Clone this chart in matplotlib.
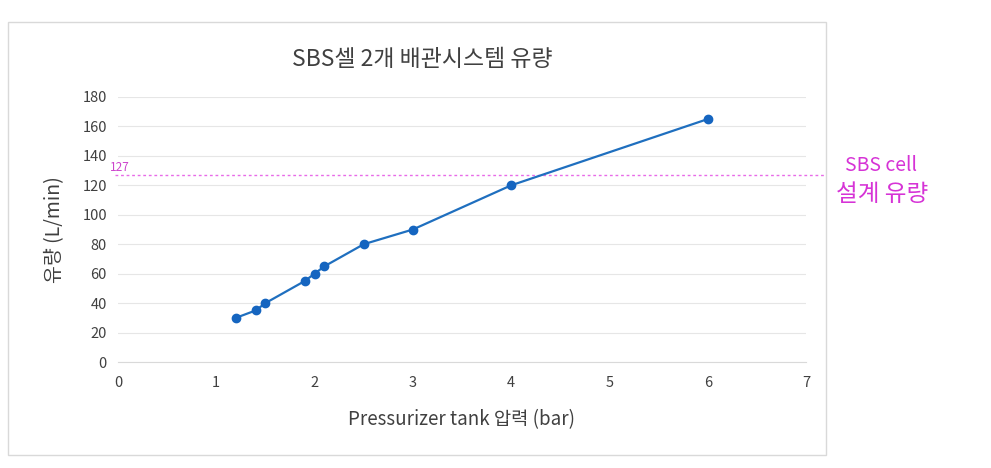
import matplotlib
matplotlib.use("Agg")
import matplotlib.pyplot as plt
from matplotlib.patches import Rectangle

plt.rcParams['font.family'] = ['Noto Sans CJK KR', 'DejaVu Sans']

pressure = [1.2, 1.4, 1.5, 1.9, 2.0, 2.1, 2.5, 3.0, 4.0, 6.0]
flow = [30, 35, 40, 55, 60, 65, 80, 90, 120, 165]
design_flow = 127
x_ticks = [0, 1, 2, 3, 4, 5, 6, 7]
y_ticks = [0, 20, 40, 60, 80, 100, 120, 140, 160, 180]

W, H = 991, 468
fig = plt.figure(figsize=(W/100, H/100), dpi=100)

# outer chart frame
fig.patches.append(Rectangle((8/W, 1-455/H), (826-8)/W, (455-22)/H,
                             transform=fig.transFigure, fill=False,
                             edgecolor='#d9d9d9', linewidth=1))

ax = fig.add_axes([118/W, 1-362/H, (806-118)/W, (362-97)/H])
ax.set_xlim(0, 7)
ax.set_ylim(0, 180)
ax.set_xticks(x_ticks)
ax.set_yticks(y_ticks)
ax.tick_params(axis='y', length=0, labelsize=10.5, colors='#404040', pad=8)
ax.tick_params(axis='x', length=0, labelsize=10.5, colors='#404040', pad=10)
for s in ['top', 'right', 'left']:
    ax.spines[s].set_visible(False)
ax.spines['bottom'].set_color('#d9d9d9')
ax.grid(axis='y', color='#e6e6e6', linewidth=0.8)
ax.set_axisbelow(True)

ax.plot(pressure, flow, color='#1f6fbf', linewidth=1.6, marker='o',
        markersize=6, markerfacecolor='#1565c0', markeredgecolor='#1565c0', zorder=3)

ax.axhline(design_flow, xmin=-0.005, xmax=(826-118)/(806-118), color='#e86be8',
           linestyle=(0, (2, 2)), linewidth=1, clip_on=False, zorder=2)
ax.text(-0.012, design_flow + 0.8, str(design_flow), color='#cc44cc', fontsize=8.5,
        ha='left', va='bottom', transform=ax.get_yaxis_transform())

fig.text(881/W, 1-165/H, 'SBS cell', color='#d633d6', fontsize=14, ha='center', va='center')
fig.text(882/W, 1-194/H, '설계 유량', color='#d633d6', fontsize=17, ha='center', va='center')

fig.text(422/W, 1-60/H, 'SBS셀 2개 배관시스템 유량', fontsize=16.5, color='#404040',
         ha='center', va='center')
ax.set_xlabel('Pressurizer tank 압력 (bar)', fontsize=13.5, color='#404040', labelpad=14)
ax.set_ylabel('유량 (L/min)', fontsize=14, color='#404040', labelpad=12)

fig.savefig('out.png', dpi=100)
